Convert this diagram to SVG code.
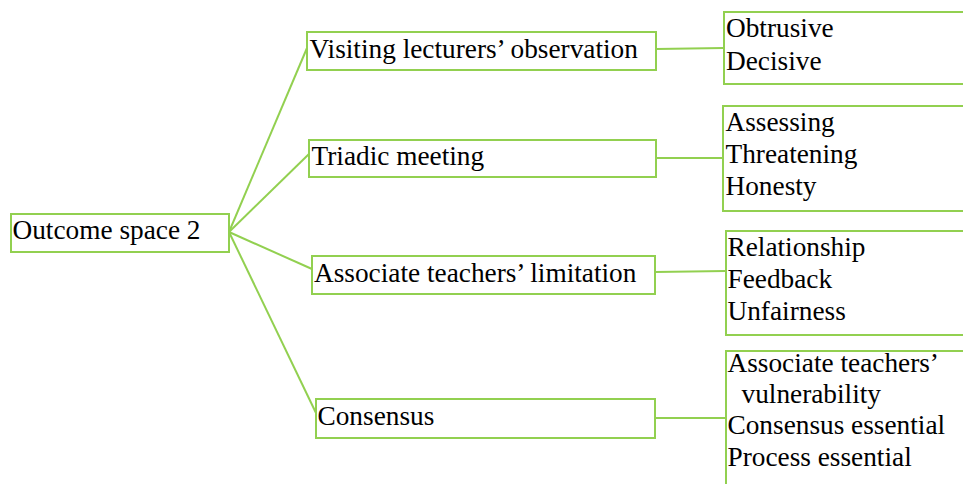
<svg xmlns="http://www.w3.org/2000/svg" width="963" height="484" viewBox="0 0 963 484">
<style>
.box{fill:#ffffff;stroke:#92D050;stroke-width:2}
.con{stroke:#92D050;stroke-width:2;fill:none}
</style>
<rect width="963" height="484" fill="#ffffff"/>
<g id="connectors">
<line class="con" x1="229" y1="232" x2="307" y2="48"/>
<line class="con" x1="229" y1="232" x2="310" y2="153"/>
<line class="con" x1="229" y1="232" x2="312" y2="269"/>
<line class="con" x1="229" y1="232" x2="316" y2="413"/>
<line class="con" x1="656" y1="49" x2="724" y2="48"/>
<line class="con" x1="656" y1="158" x2="723" y2="158"/>
<line class="con" x1="655" y1="272" x2="726" y2="271"/>
<line class="con" x1="655" y1="418" x2="726" y2="418"/>
</g>
<g font-family="'Liberation Serif', serif" font-size="27.3" fill="#000000">
<g id="outcome">
<rect class="box" x="11" y="214" width="218" height="38"/>
<text x="12.5" y="239">Outcome space 2</text>
</g>
<g id="visiting">
<rect class="box" x="307" y="32" width="349" height="38"/>
<text x="309.5" y="57.5">Visiting lecturers’ observation</text>
</g>
<g id="triadic">
<rect class="box" x="309" y="140" width="347" height="37"/>
<text x="311.5" y="165">Triadic meeting</text>
</g>
<g id="associate">
<rect class="box" x="312" y="256" width="343" height="38"/>
<text x="314" y="281.5">Associate teachers’ limitation</text>
</g>
<g id="consensus">
<rect class="box" x="316" y="399" width="339" height="39"/>
<text x="317.5" y="424.5">Consensus</text>
</g>
<g id="obs-themes">
<rect class="box" x="724" y="12" width="260" height="72"/>
<text x="726" y="36.5">Obtrusive</text>
<text x="726" y="69.5">Decisive</text>
</g>
<g id="triadic-themes">
<rect class="box" x="723" y="106" width="260" height="105"/>
<text x="725.5" y="131">Assessing</text>
<text x="725.5" y="163">Threatening</text>
<text x="725.5" y="195">Honesty</text>
</g>
<g id="limitation-themes">
<rect class="box" x="726" y="231" width="260" height="104"/>
<text x="727.5" y="256">Relationship</text>
<text x="727.5" y="288">Feedback</text>
<text x="727.5" y="320">Unfairness</text>
</g>
<g id="consensus-themes">
<rect class="box" x="726" y="351" width="260" height="150"/>
<text x="727.5" y="372">Associate teachers’</text>
<text x="741.5" y="403">vulnerability</text>
<text x="727.5" y="434">Consensus essential</text>
<text x="727.5" y="465.5">Process essential</text>
</g>
</g>
</svg>
